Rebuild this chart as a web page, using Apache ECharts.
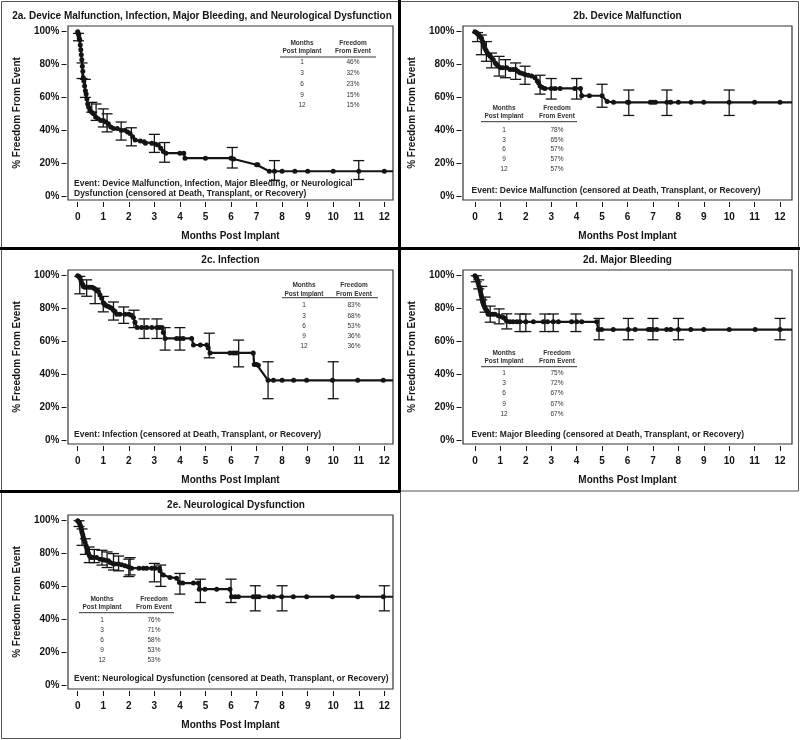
<!DOCTYPE html>
<html>
<head>
<meta charset="utf-8">
<script src="https://cdn.jsdelivr.net/npm/echarts@6/dist/echarts.min.js"></script>
<style>
  html, body { margin: 0; padding: 0; background: #fff; }
  #chart { width: 800px; height: 740px; }
</style>
</head>
<body>
<div id="chart"></div>
<script>
// ---- data (months post implant, % freedom from event) ----
const monthTicks = [0, 1, 2, 3, 4, 5, 6, 7, 8, 9, 10, 11, 12]
const pctTicks = [0, 20, 40, 60, 80, 100]
const tableMonths = [1, 3, 6, 9, 12]

// 2a. combined
const curveA = [[0,100],[0.02,99],[0.04,98],[0.06,96],[0.08,95],[0.1,92],[0.12,89],[0.14,86],[0.16,83],[0.18,79],[0.2,76],[0.22,72],[0.24,70],[0.27,67],[0.3,64],[0.33,62],[0.36,59],[0.39,56],[0.43,54],[0.48,52],[0.55,51],[0.62,50],[0.7,48],[0.8,47],[0.9,46],[1.0,46],[1.1,45],[1.2,44],[1.3,42],[1.4,41],[1.55,41],[1.7,40],[1.85,40],[1.95,39],[2.05,38],[2.15,36],[2.25,34],[2.45,33.5],[2.6,33],[2.65,32],[2.9,32],[3.05,31.5],[3.15,31],[3.25,29],[3.35,27],[3.45,26],[4.0,26],[4.15,26],[4.2,23],[5.0,23],[6.0,23],[6.1,22.5],[7.0,19],[7.05,19],[7.5,15],[7.7,15],[8,15],[8.5,15],[9,15],[10,15],[11,15],[12,15]]
const barsA = [[0.03,94.5,99],[0.17,71.5,81],[0.3,60,71],[0.55,51,57],[0.72,46,56],[1.0,42,53],[1.15,39,50],[1.7,34,45],[2.1,30.5,41.5],[3.0,26.5,37.5],[3.4,20.5,32.5],[6.05,17,29.5],[7.7,9.5,21.5],[11.0,10,21.5]]
const freedomA = [46, 32, 23, 15, 15]

// 2b. device malfunction
const curveB = [[0,100],[0.05,99.5],[0.1,99],[0.15,98],[0.2,97],[0.26,96],[0.3,94],[0.33,93],[0.36,91.5],[0.39,90],[0.44,88.5],[0.49,87],[0.55,86],[0.6,85],[0.66,84],[0.72,83],[0.8,81],[0.85,80],[0.92,79],[1.0,78],[1.1,78],[1.25,78],[1.38,77],[1.5,77],[1.6,77],[1.68,76],[1.77,75],[1.87,74.5],[1.97,74],[2.1,73.5],[2.23,73],[2.36,72],[2.45,70],[2.5,69],[2.56,67],[2.65,66],[2.75,65.5],[3.0,65.5],[3.15,65.5],[3.35,65.5],[3.93,65.5],[4.15,65.5],[4.2,61],[4.5,61],[5.0,61],[5.2,57.5],[5.45,57],[6.0,57],[6.05,57],[6.9,57],[7.0,57],[7.1,57],[7.55,57],[7.7,57],[8,57],[8.5,57],[9,57],[10,57],[11,57],[12,57]]
const barsB = [[0.1,94,99.5],[0.25,86,98],[0.45,82,94],[0.65,78,87],[0.95,73,85],[1.2,72,83],[1.6,71,81],[1.97,68,79],[2.56,62,73.5],[3.0,59,71.5],[4.0,59,71.5],[5.0,54,68],[6.05,49,64.5],[7.55,49,64.5],[10.0,49,64.5]]
const freedomB = [78, 65, 57, 57, 57]

// 2c. infection
const curveC = [[0,100],[0.05,99.5],[0.09,98.6],[0.13,97],[0.16,95.5],[0.2,94.5],[0.22,93.5],[0.28,93],[0.35,93],[0.45,93],[0.55,93],[0.62,92.5],[0.68,92],[0.75,91],[0.81,90.4],[0.87,88.4],[0.94,86.3],[1.0,83.5],[1.04,83],[1.07,82.2],[1.13,81.7],[1.2,81.2],[1.27,80.7],[1.33,80.2],[1.4,79],[1.46,78.2],[1.53,76.5],[1.65,76.5],[1.85,76.5],[2.0,76.5],[2.1,76],[2.18,74.5],[2.24,71.6],[2.33,68.4],[2.5,68.4],[2.7,68.4],[2.9,68.4],[3.1,68.4],[3.2,68.4],[3.3,68.4],[3.35,65.5],[3.42,61.8],[3.87,61.8],[4.0,61.8],[4.13,61.8],[4.46,61.8],[4.53,57.8],[4.8,57.8],[5.05,57.8],[5.11,56],[5.18,53],[5.96,53],[6.1,53],[6.22,53],[6.87,53],[6.91,46],[7.0,46],[7.07,45.5],[7.45,36.3],[7.66,36.3],[8,36.3],[8.45,36.3],[8.96,36.3],[9.97,36.3],[10.96,36.3],[11.96,36.3]]
const barsC = [[0.08,89,99.6],[0.35,87.5,97.5],[0.68,83,92.4],[1.0,78,87.4],[1.4,73,84],[1.8,71,81],[2.2,68.4,79],[2.6,61.8,73.7],[3.1,61.8,73.7],[3.42,54.7,68.4],[4.0,54.7,68.4],[5.15,50,65],[6.3,44.5,60.8],[7.45,25.1,47.6],[10.0,25.1,47.6]]
const freedomC = [83, 68, 53, 36, 36]

// 2d. major bleeding
const curveD = [[0,100],[0.04,99],[0.07,98.4],[0.1,97],[0.13,95.3],[0.17,93.3],[0.2,91.5],[0.22,90.2],[0.24,88.5],[0.26,87.2],[0.28,85.5],[0.3,84.1],[0.33,83],[0.35,82.1],[0.38,81],[0.41,80],[0.46,79],[0.49,78],[0.52,76.6],[0.6,76.6],[0.7,76.6],[0.79,76.6],[0.92,75.6],[1.05,75],[1.12,74.5],[1.18,74],[1.25,72.3],[1.38,71.9],[1.5,71.9],[1.65,71.9],[1.77,71.9],[2.0,71.9],[2.3,71.9],[2.69,71.9],[2.85,71.9],[3.08,71.9],[3.28,71.9],[3.8,71.9],[4.0,71.9],[4.2,71.9],[4.79,71.9],[4.85,67.2],[4.98,67.2],[5.44,67.2],[6.03,67.2],[6.3,67.2],[6.82,67.2],[6.9,67.2],[7.0,67.2],[7.15,67.2],[7.54,67.2],[7.7,67.2],[8,67.2],[8.49,67.2],[9,67.2],[10,67.2],[11.02,67.2],[12,67.2]]
const barsD = [[0.05,96.3,100],[0.15,92,97.5],[0.27,85.3,93.5],[0.4,77.8,87],[0.6,71.7,81.5],[0.95,70.7,79.8],[1.25,67.6,76.8],[1.77,66,76.7],[2.0,66,76.7],[2.75,66,76.7],[3.08,66,76.7],[3.97,66,76.7],[4.88,61,74],[6.03,61,74],[7.0,61,74],[8.0,61,74],[12.0,61,74]]
const freedomD = [75, 72, 67, 67, 67]

// 2e. neurological dysfunction
const curveE = [[0,100],[0.04,99.3],[0.07,98.6],[0.1,97.2],[0.13,95.9],[0.15,94.4],[0.17,92.9],[0.2,91.3],[0.22,89.8],[0.25,88.3],[0.29,86.8],[0.33,84.8],[0.36,83.2],[0.38,81.7],[0.42,80.2],[0.46,78.7],[0.51,77.6],[0.6,77.6],[0.74,77.6],[0.87,76.6],[1.0,76.2],[1.07,76],[1.2,75.6],[1.27,74.6],[1.37,74],[1.46,73.6],[1.59,73.6],[1.72,73.2],[1.85,72.6],[1.98,72],[2.11,71.1],[2.4,71.1],[2.57,71.1],[2.7,71.1],[2.9,71.1],[3.03,71.1],[3.2,71.1],[3.22,69.5],[3.35,67],[3.61,65.5],[3.87,65],[3.98,62.4],[4.11,62],[4.53,62],[4.72,62],[4.76,58.3],[4.98,58.3],[5.44,58.3],[5.96,58.3],[6.02,53.7],[6.16,53.7],[6.29,53.7],[6.87,53.7],[7.0,53.7],[7.1,53.7],[7.5,53.7],[7.66,53.7],[7.98,53.7],[8.44,53.7],[8.96,53.7],[9.97,53.7],[10.96,53.7],[11.96,53.7]]
const barsE = [[0.05,96.5,100],[0.17,85,95],[0.3,79.5,89],[0.45,74.5,84],[0.65,74.5,82.5],[0.95,73,82],[1.15,71.5,81],[1.4,70,80],[1.6,69.5,78.5],[2.0,66,76.6],[2.05,67,77.5],[3.0,62.8,74],[3.25,60,73],[4.0,55.3,67.9],[4.8,50.2,64.4],[6.0,50.2,64.4],[6.95,45.1,60.4],[8.0,45.1,60.4],[12.0,45.1,60.4]]
const freedomE = [76, 71, 58, 53, 53]

// ---- layout of the five panels ----
const FONT = '"Liberation Sans", Arial, Helvetica, sans-serif'
const INK = '#141414'

const panels = [
  { title: '2a. Device Malfunction, Infection, Major Bleeding, and Neurological Dysfunction', tx: 202, ty: 16,
    grid: { left: 68, top: 26, width: 325, height: 174 }, xmin: -0.38, xmax: 12.34,
    curve: curveA, bars: barsA, freedom: freedomA,
    table: { c1: 302, c2: 353, hy: 43, uy: 57, x1: 280, x2: 376, ry: 62.5, dy: 10.8 },
    event: ['Event: Device Malfunction, Infection, Major Bleeding, or Neurological', 'Dysfunction (censored at Death, Transplant, or Recovery)'], ex: 74, ey: 183.5 },
  { title: '2b. Device Malfunction', tx: 627.5, ty: 16,
    grid: { left: 463, top: 26, width: 329, height: 174 }, xmin: -0.47, xmax: 12.47,
    curve: curveB, bars: barsB, freedom: freedomB,
    table: { c1: 504, c2: 557, hy: 108.3, uy: 121.7, x1: 481, x2: 577, ry: 130, dy: 9.8 },
    event: ['Event: Device Malfunction (censored at Death, Transplant, or Recovery)'], ex: 471.5, ey: 190.7 },
  { title: '2c. Infection', tx: 230.5, ty: 260,
    grid: { left: 68, top: 270, width: 325, height: 174 }, xmin: -0.38, xmax: 12.34,
    curve: curveC, bars: barsC, freedom: freedomC,
    table: { c1: 304, c2: 354, hy: 285.7, uy: 297.7, x1: 282, x2: 378, ry: 305.7, dy: 10.1 },
    event: ['Event: Infection (censored at Death, Transplant, or Recovery)'], ex: 74, ey: 435 },
  { title: '2d. Major Bleeding', tx: 627.5, ty: 260,
    grid: { left: 463, top: 270, width: 329, height: 174 }, xmin: -0.47, xmax: 12.47,
    curve: curveD, bars: barsD, freedom: freedomD,
    table: { c1: 504, c2: 557, hy: 353.3, uy: 366.7, x1: 481, x2: 577, ry: 373.3, dy: 10.2 },
    event: ['Event: Major Bleeding (censored at Death, Transplant, or Recovery)'], ex: 471.5, ey: 435 },
  { title: '2e. Neurological Dysfunction', tx: 236, ty: 505,
    grid: { left: 68, top: 515, width: 325, height: 174 }, xmin: -0.38, xmax: 12.34,
    curve: curveE, bars: barsE, freedom: freedomE,
    table: { c1: 102, c2: 154, hy: 599.3, uy: 612.7, x1: 79, x2: 174, ry: 620.7, dy: 10 },
    event: ['Event: Neurological Dysfunction (censored at Death, Transplant, or Recovery)'], ex: 74, ey: 679 }
]

const chart = echarts.init(document.getElementById('chart'), null, { renderer: 'canvas' })

const text = (x, y, str, opts = {}) => ({
  type: 'text', x, y, silent: true,
  style: Object.assign({
    text: str, fill: INK, fontFamily: FONT, fontSize: 10, fontWeight: 'bold',
    textAlign: 'center', textVerticalAlign: 'middle'
  }, opts)
})
const line = (x1, y1, x2, y2, stroke, lineWidth) => ({
  type: 'line', silent: true, shape: { x1, y1, x2, y2 }, style: { stroke, lineWidth }
})

// error bar: vertical line with caps, placed through the panel's axes
const renderBar = (params, api) => {
  const lo = api.coord([api.value(0), api.value(1)])
  const hi = api.coord([api.value(0), api.value(2)])
  const w = 5.5
  const style = { stroke: INK, lineWidth: 1.3 }
  return {
    type: 'group',
    children: [
      { type: 'line', shape: { x1: lo[0], y1: hi[1], x2: lo[0], y2: lo[1] }, style },
      { type: 'line', shape: { x1: lo[0] - w, y1: hi[1], x2: lo[0] + w, y2: hi[1] }, style },
      { type: 'line', shape: { x1: lo[0] - w, y1: lo[1], x2: lo[0] + w, y2: lo[1] }, style }
    ]
  }
}

const grids = [], xAxes = [], yAxes = [], series = [], graphics = []

panels.forEach((p, i) => {
  grids.push(Object.assign({ show: true, borderColor: '#333', borderWidth: 1.2, backgroundColor: 'transparent' }, p.grid))

  xAxes.push({
    gridIndex: i, type: 'value', position: 'bottom', min: p.xmin, max: p.xmax, offset: 2,
    axisLine: { show: false, onZero: false }, splitLine: { show: false },
    axisTick: { show: true, inside: false, length: 5, customValues: monthTicks, lineStyle: { color: INK, width: 1 } },
    axisLabel: { customValues: monthTicks, fontFamily: FONT, fontSize: 10, fontWeight: 'bold', color: INK, margin: 10.5 },
    name: 'Months Post Implant', nameLocation: 'middle', nameGap: 29,
    nameTextStyle: { fontFamily: FONT, fontSize: 10, fontWeight: 'bold', color: INK }
  })

  yAxes.push({
    gridIndex: i, type: 'value', position: 'left', min: -2.5, max: 103.5, offset: 1.5,
    axisLine: { show: false, onZero: false }, splitLine: { show: false },
    axisTick: { show: true, inside: false, length: 5, customValues: pctTicks, lineStyle: { color: INK, width: 1 } },
    axisLabel: { customValues: pctTicks, formatter: '{value}%', fontFamily: FONT, fontSize: 10, fontWeight: 'bold', color: INK, margin: 7 },
    name: '% Freedom From Event', nameLocation: 'middle', nameGap: 44,
    nameTextStyle: { fontFamily: FONT, fontSize: 10, fontWeight: 'bold', color: INK }
  })

  const last = p.curve[p.curve.length - 1]
  series.push({
    type: 'line', xAxisIndex: i, yAxisIndex: i, silent: true, animation: false,
    data: p.curve.map(d => d).concat([{ value: [p.xmax, last[1]], symbol: 'none' }]),
    symbol: 'circle', symbolSize: 5, showAllSymbol: true,
    lineStyle: { color: INK, width: 2.2 }, itemStyle: { color: INK }
  })
  series.push({
    type: 'custom', xAxisIndex: i, yAxisIndex: i, silent: true, animation: false,
    renderItem: renderBar, encode: { x: 0, y: [1, 2] }, data: p.bars, z: 3
  })

  // panel title
  graphics.push(text(p.tx, p.ty, p.title, { fontSize: 10 }))

  // inset table
  const t = p.table
  const hs = { fontSize: 6.5, fontWeight: 'bold', fill: '#333' }
  graphics.push(text(t.c1, t.hy, 'Months', hs))
  graphics.push(text(t.c1, t.hy + 8.3, 'Post Implant', hs))
  graphics.push(text(t.c2, t.hy, 'Freedom', hs))
  graphics.push(text(t.c2, t.hy + 8.3, 'From Event', hs))
  graphics.push(line(t.x1, t.uy, t.x2, t.uy, '#333', 1))
  tableMonths.forEach((m, k) => {
    const rs = { fontSize: 6.5, fontWeight: 'normal', fill: '#333' }
    graphics.push(text(t.c1, t.ry + k * t.dy, String(m), rs))
    graphics.push(text(t.c2, t.ry + k * t.dy, p.freedom[k] + '%', rs))
  })

  // event note
  p.event.forEach((s, k) => {
    graphics.push(text(p.ex, p.ey + k * 10, s, { fontSize: 8.5, textAlign: 'left', fill: '#222' }))
  })
})

// panel frames
const frame = (x, y, w, h) => ({ type: 'rect', silent: true, shape: { x, y, width: w, height: h }, style: { fill: 'none', stroke: '#555', lineWidth: 1 } })
graphics.push(frame(1.5, 1.5, 398, 247))
graphics.push(frame(400.5, 1.5, 398, 247))
graphics.push(frame(1.5, 248, 398, 243))
graphics.push(frame(400.5, 248, 398, 243))
graphics.push(frame(1.5, 491, 399, 247.5))
graphics.push(line(0, 248.5, 800, 248.5, '#000', 3))
graphics.push(line(399.5, 0, 399.5, 492, '#000', 3))
graphics.push(line(0, 491.5, 400, 491.5, '#000', 3))

chart.setOption({
  animation: false,
  backgroundColor: '#fff',
  grid: grids,
  xAxis: xAxes,
  yAxis: yAxes,
  series,
  graphic: graphics
})
</script>
</body>
</html>
